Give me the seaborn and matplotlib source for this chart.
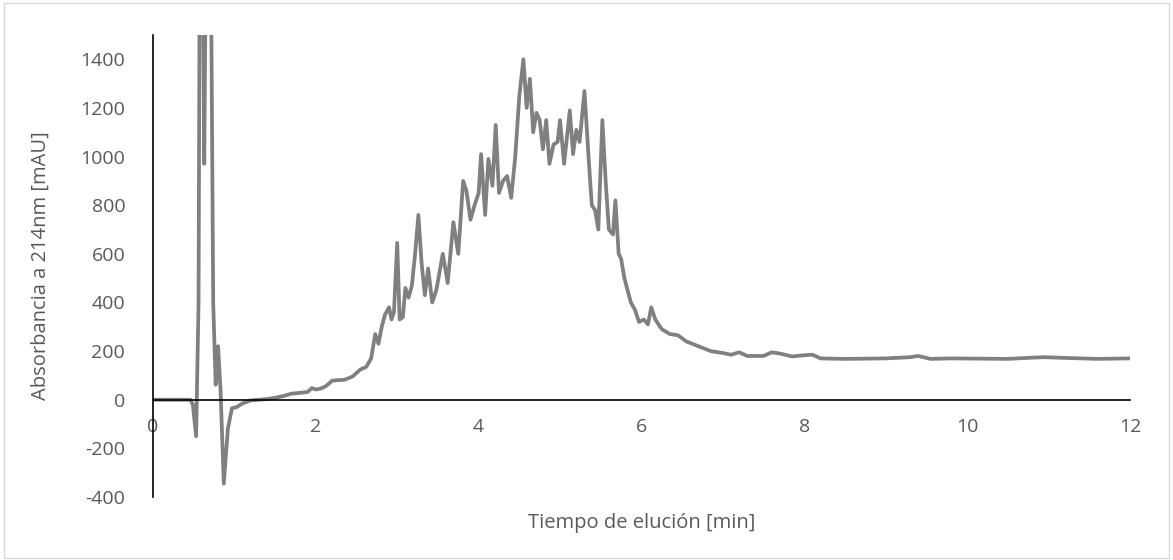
import pandas as pd
import matplotlib
matplotlib.use("Agg")
import matplotlib.pyplot as plt
import seaborn as sns

# elution time [min] and absorbance at 214 nm [mAU]
tiempo = [0.0, 0.3, 0.46, 0.49, 0.53, 0.56, 0.58, 0.60, 0.63, 0.66,
          0.70, 0.74, 0.77, 0.80, 0.83, 0.87, 0.92, 0.97, 1.03, 1.1,
          1.2, 1.3, 1.4, 1.5, 1.6, 1.7, 1.8, 1.9, 1.95, 2.0,
          2.05, 2.12, 2.2, 2.25, 2.35, 2.45, 2.55, 2.62, 2.68, 2.73,
          2.77, 2.81, 2.85, 2.9, 2.93, 2.96, 3.0, 3.03, 3.07, 3.1,
          3.14, 3.18, 3.22, 3.26, 3.3, 3.34, 3.38, 3.43, 3.48, 3.56,
          3.62, 3.69, 3.75, 3.81, 3.85, 3.9, 3.95, 4.0, 4.03, 4.08,
          4.12, 4.17, 4.21, 4.25, 4.3, 4.35, 4.4, 4.45, 4.5, 4.55,
          4.59, 4.63, 4.67, 4.71, 4.75, 4.79, 4.83, 4.87, 4.92, 4.97,
          5.0, 5.05, 5.12, 5.16, 5.2, 5.24, 5.3, 5.35, 5.39, 5.43,
          5.47, 5.52, 5.56, 5.6, 5.65, 5.68, 5.72, 5.75, 5.79, 5.83,
          5.87, 5.92, 5.97, 6.03, 6.08, 6.12, 6.17, 6.25, 6.35, 6.45,
          6.55, 6.7, 6.85, 7.0, 7.1, 7.2, 7.3, 7.5, 7.6, 7.7,
          7.85, 8.0, 8.1, 8.2, 8.5, 9.0, 9.3, 9.4, 9.55, 9.8,
          10.5, 10.8, 10.95, 11.2, 11.6, 12.0]
absorbancia = [0, 0, 0, -20, -150, 400, 2400, 2400, 970, 2300,
               2400, 400, 62, 220, 40, -345, -120, -35, -30, -15,
               -3, 0, 3, 8, 15, 25, 28, 32, 48, 42,
               45, 55, 78, 80, 82, 95, 125, 135, 170, 270,
               230, 300, 350, 380, 330, 360, 645, 330, 340, 460,
               420, 470, 600, 760, 560, 430, 540, 400, 450, 600,
               480, 730, 600, 900, 860, 740, 800, 850, 1010, 760,
               990, 880, 1130, 850, 900, 920, 830, 1000, 1250, 1400,
               1200, 1320, 1100, 1180, 1150, 1030, 1150, 970, 1050, 1060,
               1150, 970, 1190, 1010, 1110, 1060, 1270, 1000, 800, 780,
               700, 1150, 900, 700, 680, 820, 600, 580, 500, 450,
               400, 370, 320, 330, 310, 380, 330, 290, 270, 265,
               240, 220, 200, 192, 185, 195, 180, 180, 195, 190,
               178, 183, 185, 170, 168, 170, 175, 180, 168, 170,
               168, 173, 175, 172, 168, 170]

xticks = [0, 2, 4, 6, 8, 10, 12]
yticks = [-400, -200, 0, 200, 400, 600, 800, 1000, 1200, 1400]

df = pd.DataFrame({"t": tiempo, "a": absorbancia})

sns.set_style("white")
plt.rcParams["font.family"] = ["Open Sans", "DejaVu Sans"]
txt = "#595959"

fig = plt.figure(figsize=(11.73, 5.6), dpi=100)
ax = fig.add_axes([0.1304, 0.1125, 0.8329, 0.825])

sns.lineplot(data=df, x="t", y="a", estimator=None, sort=False,
             color="#808080", linewidth=2.7, ax=ax)
for l in ax.lines:
    l.set_solid_joinstyle("round")
    l.set_solid_capstyle("round")

ax.set_xlim(0, 12)
ax.set_ylim(-400, 1500)
ax.set_xticks(xticks)
ax.set_yticks(yticks)
ax.set_xticklabels([str(v) for v in xticks])
ax.set_yticklabels([str(v) for v in yticks])

for s in ["top", "right"]:
    ax.spines[s].set_visible(False)
ax.spines["bottom"].set_position(("data", 0))
ax.spines["bottom"].set_color("black")
ax.spines["left"].set_color("black")
ax.spines["bottom"].set_linewidth(1.2)
ax.spines["left"].set_linewidth(1.2)

ax.tick_params(axis="x", length=0, pad=13, labelsize=14, labelcolor=txt)
ax.tick_params(axis="y", length=0, pad=20, labelsize=14, labelcolor=txt)

ax.set_xlabel("Tiempo de elución [min]", fontsize=14.5, color=txt)
ax.set_ylabel("Absorbancia a 214nm [mAU]", fontsize=14.5, color=txt)
ax.xaxis.set_label_coords(0.5, -0.035)
ax.yaxis.set_label_coords(-0.105, 0.5)

# light frame round the whole chart
fig.patches.append(plt.Rectangle((0.003, 0.004), 0.994, 0.99, transform=fig.transFigure,
                                 fill=False, edgecolor="#d9d9d9", linewidth=1))

fig.savefig("out.png", dpi=100)
